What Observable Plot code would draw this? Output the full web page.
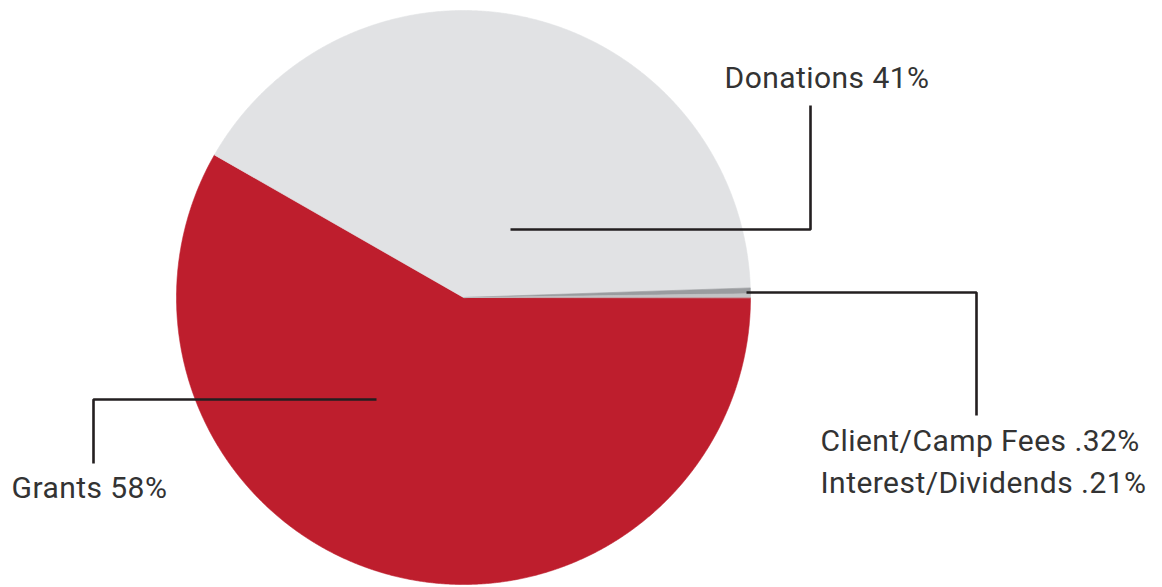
<!DOCTYPE html>
<html>
<head>
<meta charset="utf-8">
<script src="https://cdn.jsdelivr.net/npm/d3@7"></script>
<script src="https://cdn.jsdelivr.net/npm/@observablehq/plot@0.6"></script>
<style>
  html, body { margin: 0; padding: 0; background: #ffffff; }
  #chart svg { display: block; }
  #chart svg text { letter-spacing: 0.45px; }
</style>
</head>
<body>
<div id="chart"></div>
<script>
// ---- data ----
const categories = ["Grants", "Donations", "Client/Camp Fees", "Interest/Dividends"];
const shares = [58, 41, 0.32, 0.21];
const labels = ["Grants 58%", "Donations 41%", "Client/Camp Fees .32%", "Interest/Dividends .21%"];
const colors = ["#be1e2d", "#e1e2e4", "#9a9c9f", "#c2c3c5"];

// ---- layout (pixel space of the plot) ----
const W = 1162, H = 587;
const center = [463, 297];
const radius = 287;
// leader polylines: [x, y] points, per category
const leaderPaths = [
  ["Grants", [[376, 399], [93, 399], [93, 463]]],
  ["Donations", [[510, 229], [810, 229], [810, 105]]],
  ["Client/Camp Fees", [[746, 292], [976, 292], [976, 415]]]
];
// label anchor (left, baseline)
const labelPos = [[11, 497], [724, 87], [820, 450], [820, 492]];

// ---- build slices ----
const arcs = d3.pie().sort(null)
  .startAngle(Math.PI / 2)
  .endAngle(Math.PI / 2 + 2 * Math.PI)(shares);

const slicePts = [];
arcs.forEach((a, i) => {
  const name = categories[i];
  slicePts.push({name, x: center[0], y: center[1]});
  const n = Math.max(2, Math.ceil((a.endAngle - a.startAngle) / 0.004));
  for (let k = 0; k <= n; k++) {
    const t = a.startAngle + (a.endAngle - a.startAngle) * k / n;
    slicePts.push({name, x: center[0] + radius * Math.sin(t), y: center[1] - radius * Math.cos(t)});
  }
});

const leaderPts = [];
leaderPaths.forEach(([name, pts]) => pts.forEach(([x, y]) => leaderPts.push({name, x, y})));

const labelData = labels.map((t, i) => ({text: t, x: labelPos[i][0], y: labelPos[i][1]}));

const chart = Plot.plot({
  width: W,
  height: H,
  margin: 0,
  x: {domain: [0, W], range: [0, W], axis: null},
  y: {domain: [0, H], range: [0, H], axis: null},
  color: {domain: categories, range: colors},
  style: {background: "#ffffff", fontFamily: "Roboto, 'Liberation Sans', sans-serif"},
  marks: [
    Plot.line(slicePts, {x: "x", y: "y", z: "name", fill: "name", stroke: "name", strokeWidth: 0.6, curve: "linear-closed"}),
    Plot.line(leaderPts, {x: "x", y: "y", z: "name", stroke: "#231f20", strokeWidth: 2.6, strokeLinejoin: "miter", strokeLinecap: "butt"}),
    Plot.text(labelData, {x: "x", y: "y", text: "text", textAnchor: "start", lineAnchor: "bottom", fontSize: 30, fill: "#333333", fontFamily: "Roboto"})
  ]
});
document.getElementById("chart").appendChild(chart);
</script>
</body>
</html>
